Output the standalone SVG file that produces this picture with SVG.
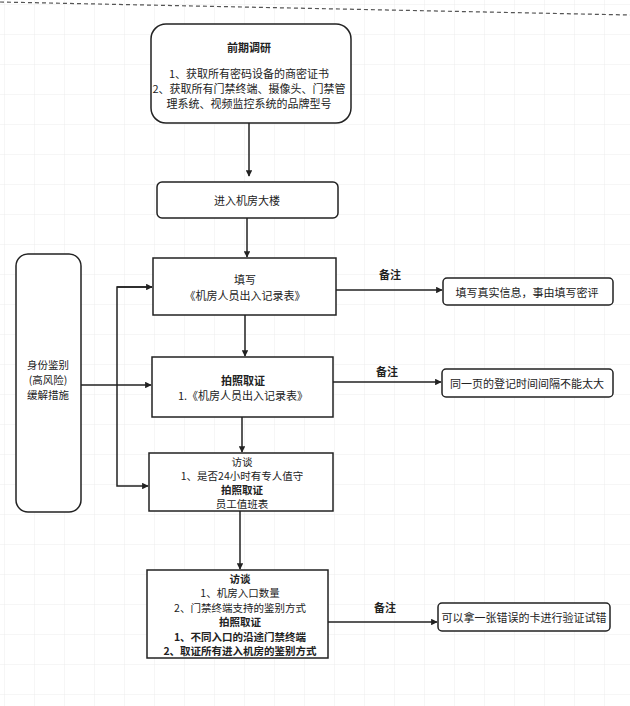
<svg xmlns="http://www.w3.org/2000/svg" width="630" height="706" viewBox="0 0 630 706">
<style>
text{font-family:"Noto Sans CJK SC","Liberation Sans",sans-serif;font-size:11px;fill:#222;text-anchor:middle;dominant-baseline:central}
.b{font-weight:bold}
.s{font-size:10.5px}
.box{fill:#fff;stroke:#222;stroke-width:1.5}
.c{fill:none;stroke:#222;stroke-width:1.5}
</style>
<defs>
<pattern id="grid" width="30" height="30" patternUnits="userSpaceOnUse" x="5" y="5">
<path d="M30 0V30M0 30H30" fill="none" stroke="#ececec" stroke-width="1"/>
</pattern>
<marker id="ah" viewBox="0 0 10 10" refX="9" refY="5" markerWidth="6.5" markerHeight="6.5" orient="auto" markerUnits="userSpaceOnUse">
<path d="M0 0L10 5L0 10z" fill="#222"/>
</marker>
</defs>
<rect width="630" height="706" fill="#fff"/>
<rect width="630" height="706" fill="url(#grid)"/>
<line x1="0" y1="2" x2="630" y2="15" stroke="#555" stroke-width="1.2" stroke-dasharray="4 3"/>

<g id="connectors">
<path class="c" d="M249 122V176" marker-end="url(#ah)"/>
<path class="c" d="M247 218V257" marker-end="url(#ah)"/>
<path class="c" d="M245 315V356" marker-end="url(#ah)"/>
<path class="c" d="M242 417V452" marker-end="url(#ah)"/>
<path class="c" d="M240 511V569" marker-end="url(#ah)"/>
<path class="c" d="M336 290H442" marker-end="url(#ah)"/>
<path class="c" d="M333 382H441" marker-end="url(#ah)"/>
<path class="c" d="M328 622H437" marker-end="url(#ah)"/>
<path class="c" d="M81 385H151" marker-end="url(#ah)"/>
<path class="c" d="M152 287H117V486H148" marker-end="url(#ah)"/>
<path class="c" d="M117 287H152" marker-end="url(#ah)"/>
<text x="390" y="274" class="b">备注</text>
<text x="387" y="371" class="b">备注</text>
<text x="385" y="607" class="b">备注</text>
</g>

<g id="n1">
<rect class="box" x="151" y="24" width="200" height="99" rx="15"/>
<text x="249" y="47" class="b">前期调研</text>
<text x="249" y="73">1、获取所有密码设备的商密证书</text>
<text x="249" y="88">2、获取所有门禁终端、摄像头、门禁管</text>
<text x="249" y="103">理系统、视频监控系统的品牌型号</text>
</g>

<g id="n2">
<rect class="box" x="157" y="182" width="181" height="36" rx="5"/>
<text x="247" y="200">进入机房大楼</text>
</g>

<g id="n3">
<rect class="box" x="153" y="258" width="183" height="57"/>
<text x="245" y="279">填写</text>
<text x="245" y="295">《机房人员出入记录表》</text>
</g>

<g id="n4">
<rect class="box" x="152" y="357" width="181" height="60"/>
<text x="243" y="380" class="b">拍照取证</text>
<text x="243" y="395">1.《机房人员出入记录表》</text>
</g>

<g id="n5">
<rect class="box" x="149" y="453" width="184" height="58"/>
<text x="242" y="461" class="s">访谈</text>
<text x="242" y="475" class="s">1、是否24小时有专人值守</text>
<text x="242" y="489" class="s b">拍照取证</text>
<text x="242" y="503" class="s">员工值班表</text>
</g>

<g id="n6">
<rect class="box" x="147" y="570" width="181" height="88"/>
<text x="240" y="578" class="s b">访谈</text>
<text x="240" y="592.5" class="s">1、机房入口数量</text>
<text x="240" y="607" class="s">2、门禁终端支持的鉴别方式</text>
<text x="240" y="621.5" class="s b">拍照取证</text>
<text x="240" y="636" class="s b">1、不同入口的沿途门禁终端</text>
<text x="240" y="650.5" class="s b">2、取证所有进入机房的鉴别方式</text>
</g>

<g id="n7">
<rect class="box" x="16" y="254" width="65" height="258" rx="12"/>
<text x="48" y="364" class="s">身份鉴别</text>
<text x="48" y="379" class="s">(高风险)</text>
<text x="48" y="394" class="s">缓解措施</text>
</g>

<g id="note1">
<rect class="box" x="443" y="278" width="170" height="27" rx="4"/>
<text x="527" y="292">填写真实信息，事由填写密评</text>
</g>

<g id="note2">
<rect class="box" x="442" y="369" width="171" height="28" rx="4"/>
<text x="527" y="383">同一页的登记时间间隔不能太大</text>
</g>

<g id="note3">
<rect class="box" x="438" y="603" width="172" height="28" rx="4"/>
<text x="524" y="617">可以拿一张错误的卡进行验证试错</text>
</g>
</svg>
